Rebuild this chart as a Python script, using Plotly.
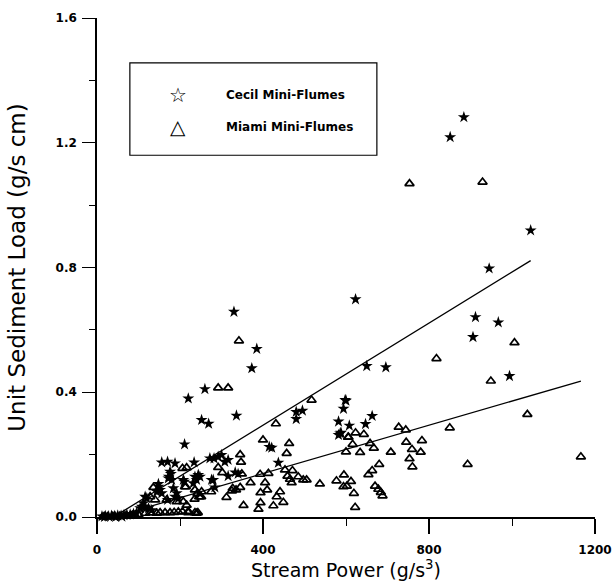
import plotly.graph_objects as go

# Cecil mini-flume observations: stream power (g/s^3) vs unit sediment load (g/s cm)
cecil_power = [884, 851, 1045, 945, 623, 912, 967, 906, 994,
               650, 696, 600, 594, 663, 647, 608, 588, 582, 586, 582, 598,
               330, 385, 373, 260, 220, 252, 269, 336, 211,
               480, 495, 480, 415, 421, 437,
               272, 282, 292, 300, 308, 316, 333, 340, 316,
               156, 170, 188, 234, 176, 173, 180, 172, 178,
               208, 236, 240, 232, 244, 276, 280, 284, 210, 248,
               148, 152, 156, 144, 184, 148,
               116, 120, 188, 192, 196, 170,
               108, 104, 116, 124, 132, 112,
               12, 18, 20, 28, 35, 42, 45, 50, 58, 60, 65, 72, 80, 88, 95]
cecil_load = [1.282, 1.218, 0.919, 0.797, 0.698, 0.641, 0.624, 0.577, 0.452,
              0.484, 0.480, 0.373, 0.347, 0.324, 0.298, 0.293, 0.270, 0.306, 0.268, 0.263, 0.375,
              0.658, 0.539, 0.477, 0.410, 0.380, 0.311, 0.299, 0.325, 0.233,
              0.337, 0.341, 0.314, 0.225, 0.222, 0.174,
              0.188, 0.188, 0.193, 0.199, 0.177, 0.183, 0.143, 0.138, 0.131,
              0.175, 0.177, 0.172, 0.175, 0.145, 0.129, 0.119, 0.124, 0.138,
              0.119, 0.129, 0.119, 0.108, 0.135, 0.119, 0.119, 0.095, 0.113, 0.129,
              0.097, 0.087, 0.076, 0.081, 0.092, 0.106,
              0.065, 0.060, 0.065, 0.076, 0.060, 0.055,
              0.033, 0.028, 0.033, 0.028, 0.022, 0.044,
              0.002, 0.000, 0.003, 0.002, 0.004, 0.003, 0.000, 0.005, 0.004, 0.001, 0.006, 0.007, 0.008, 0.010, 0.012]

# Miami mini-flume observations
miami_power = [753, 929, 1006, 949, 1037, 893, 1166, 818, 850,
               342, 292, 316, 517, 431, 400, 463, 457,
               345, 347, 292, 302, 349,
               393, 413, 453, 471, 459, 465, 485, 497, 505, 469,
               537, 577, 595, 594, 602, 600, 605,
               370, 405, 394, 410, 441, 433, 394, 449, 425, 353, 389,
               327, 335, 345, 325, 312, 275,
               248, 242, 235, 252, 246, 251,
               208, 216, 220, 240,
               206, 216, 212, 214,
               136, 128, 140, 168, 192, 236,
               152, 164, 176, 186, 196, 206, 220, 236, 243, 116, 128, 144,
               15, 25, 38, 55, 70, 85, 100,
               623, 643, 606, 727, 744, 616, 658, 667, 634, 708, 745, 783, 759, 780,
               753, 760, 680, 663, 654, 612, 619, 622, 670, 678, 684, 688]
miami_load = [1.069, 1.074, 0.559, 0.436, 0.329, 0.169, 0.193, 0.508, 0.286,
              0.565, 0.414, 0.414, 0.375, 0.299, 0.247, 0.236, 0.204,
              0.200, 0.176, 0.159, 0.142, 0.138,
              0.137, 0.140, 0.151, 0.149, 0.131, 0.121, 0.129, 0.119, 0.119, 0.110,
              0.106, 0.116, 0.135, 0.097, 0.099, 0.209, 0.256,
              0.110, 0.110, 0.078, 0.087, 0.081, 0.065, 0.046, 0.047, 0.036, 0.037, 0.025,
              0.092, 0.087, 0.095, 0.084, 0.063, 0.081,
              0.065, 0.076, 0.057, 0.081, 0.065, 0.065,
              0.049, 0.038, 0.014, 0.012,
              0.156, 0.158, 0.097, 0.097,
              0.095, 0.065, 0.055, 0.055, 0.049, 0.087,
              0.014, 0.014, 0.014, 0.015, 0.016, 0.017, 0.018, 0.014, 0.014, 0.012, 0.013, 0.012,
              0.000, 0.001, 0.002, 0.003, 0.004, 0.006, 0.008,
              0.270, 0.265, 0.256, 0.288, 0.279, 0.233, 0.236, 0.221, 0.207, 0.208, 0.240, 0.245, 0.217, 0.208,
              0.187, 0.161, 0.169, 0.149, 0.136, 0.114, 0.076, 0.031, 0.099, 0.089, 0.079, 0.068]

# Fitted regression lines (end points)
cecil_fit_x = [40, 1045]
cecil_fit_y = [0.0, 0.822]
miami_fit_x = [40, 1166]
miami_fit_y = [0.0, 0.436]

x_ticks = [0, 400, 800, 1200]
y_ticks = [0.0, 0.4, 0.8, 1.2, 1.6]
y_tick_text = ["0.0", "0.4", "0.8", "1.2", "1.6"]

legend_labels = ["Cecil Mini-Flumes", "Miami Mini-Flumes"]
legend_symbols = ["\u2606", "\u25B3"]

font_family = "DejaVu Sans"

fig = go.Figure()

fig.add_trace(go.Scatter(
    x=cecil_fit_x, y=cecil_fit_y, mode="lines",
    line=dict(color="black", width=1.3), showlegend=False, hoverinfo="skip"))
fig.add_trace(go.Scatter(
    x=miami_fit_x, y=miami_fit_y, mode="lines",
    line=dict(color="black", width=1.3), showlegend=False, hoverinfo="skip"))

fig.add_trace(go.Scatter(
    x=miami_power, y=miami_load, mode="markers", name=legend_labels[1],
    marker=dict(symbol="triangle-up-open", size=8, color="black",
                line=dict(color="black", width=1.7)),
    showlegend=False, cliponaxis=False))
fig.add_trace(go.Scatter(
    x=cecil_power, y=cecil_load, mode="markers", name=legend_labels[0],
    marker=dict(symbol="star", size=9, color="black",
                line=dict(color="black", width=0)),
    showlegend=False, cliponaxis=False))

# Legend box drawn in paper coordinates
fig.add_shape(type="rect", xref="paper", yref="paper",
              x0=0.066, x1=0.562, y0=0.725, y1=0.910,
              line=dict(color="black", width=1.2), fillcolor="white", layer="below")
for i, (sym, lab) in enumerate(zip(legend_symbols, legend_labels)):
    yy = 0.846 - i * 0.064
    fig.add_annotation(xref="paper", yref="paper", x=0.163, y=yy, text=sym,
                       showarrow=False, xanchor="center", yanchor="middle",
                       font=dict(family=font_family, size=20, color="black"))
    fig.add_annotation(xref="paper", yref="paper", x=0.255, y=yy, text=lab,
                       showarrow=False, xanchor="left", yanchor="middle",
                       font=dict(family=font_family, size=12, color="black", weight="bold"))

fig.update_layout(
    width=613, height=582,
    margin=dict(l=97, r=18, t=18, b=65),
    paper_bgcolor="white", plot_bgcolor="white",
    font=dict(family=font_family, color="black"),
    showlegend=False,
)

fig.update_xaxes(
    range=[0, 1200], tickvals=x_ticks, ticktext=[str(v) for v in x_ticks],
    showgrid=False, zeroline=False, showline=True, linecolor="black", linewidth=1.5,
    ticks="outside", ticklen=15, tickwidth=1.5, tickcolor="black",
    ticklabelstandoff=6, automargin=False,
    minor=dict(dtick=200, ticks="outside", ticklen=7, tickwidth=1.3, tickcolor="black", showgrid=False),
    tickfont=dict(size=12, family=font_family, weight="bold"),
    title=dict(text="Stream Power (g/s<sup>3</sup>)", font=dict(size=19, family=font_family), standoff=6),
)
fig.update_yaxes(
    range=[0, 1.6], tickvals=y_ticks, ticktext=y_tick_text,
    showgrid=False, zeroline=False, showline=True, linecolor="black", linewidth=1.5,
    ticks="outside", ticklen=13, tickwidth=1.3, tickcolor="black",
    ticklabelstandoff=3, automargin=False,
    minor=dict(dtick=0.2, ticks="outside", ticklen=6, tickwidth=1.2, tickcolor="black", showgrid=False),
    tickfont=dict(size=12, family=font_family, weight="bold"),
    title=dict(text="Unit Sediment Load (g/s cm)", font=dict(size=23, family=font_family), standoff=24),
)

fig.write_html("out.html")
